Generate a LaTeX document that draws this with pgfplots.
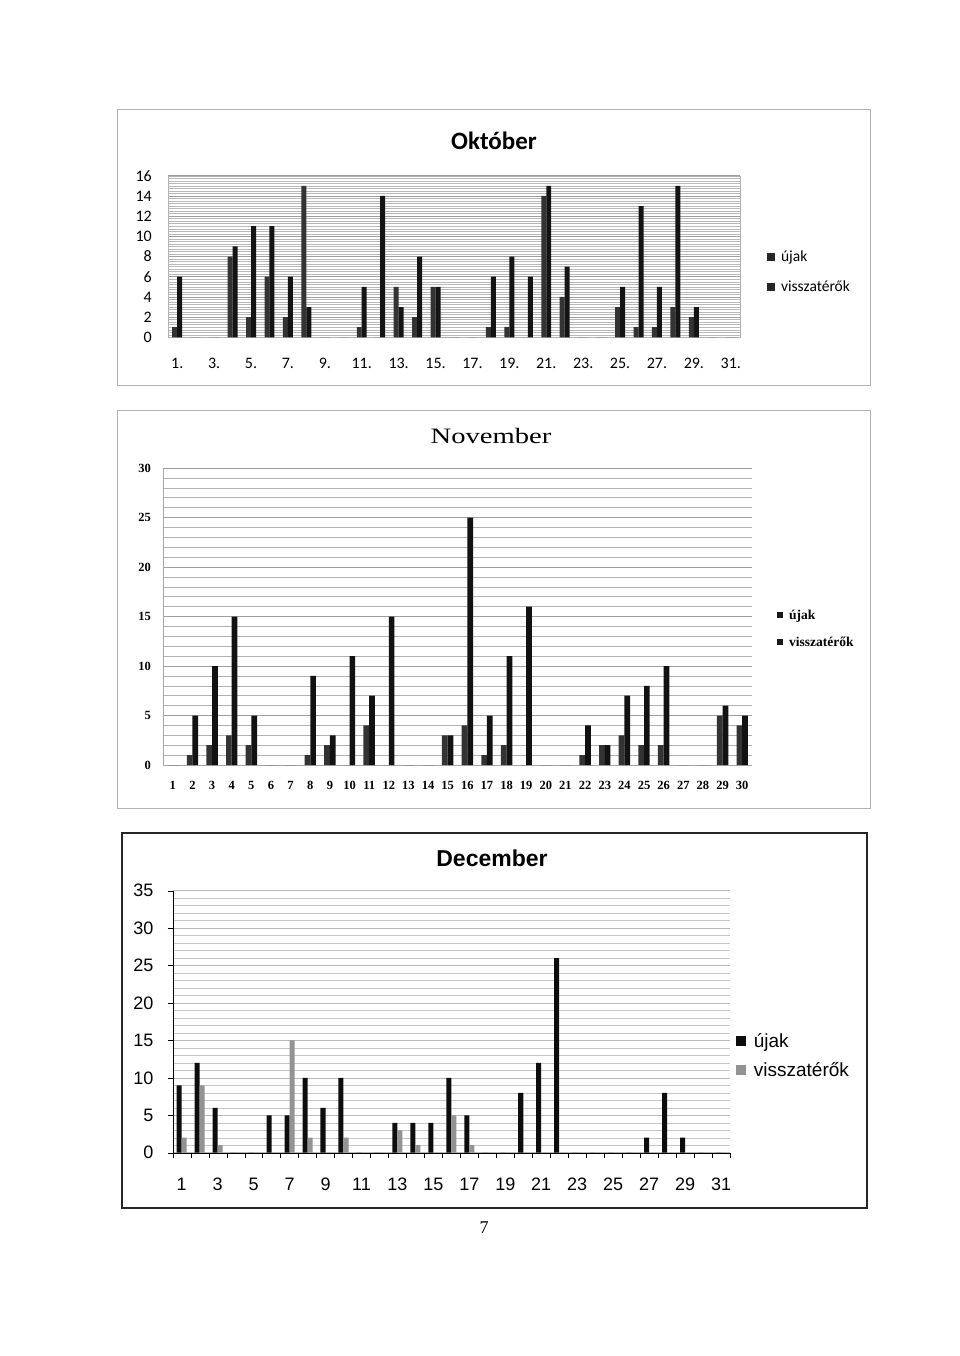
\documentclass[border=0pt]{standalone}
\usepackage{fontspec}
\setmainfont{Liberation Sans}
\newfontfamily\carlito{Carlito}
\newfontfamily\lserif{Liberation Serif}
\newfontfamily\lsans{Liberation Sans}
\usepackage{pgfplots}
\usepackage{pgfplotstable}
\pgfplotsset{compat=1.18}

\pgfplotstableread{
d u v
1 1 6
2 0 0
3 0 0
4 8 9
5 2 11
6 6 11
7 2 6
8 15 3
9 0 0
10 0 0
11 1 5
12 0 14
13 5 3
14 2 8
15 5 5
16 0 0
17 0 0
18 1 6
19 1 8
20 0 6
21 14 15
22 4 7
23 0 0
24 0 0
25 3 5
26 1 13
27 1 5
28 3 15
29 2 3
30 0 0
31 0 0
}\okt

\pgfplotstableread{
d u v
1 0 0
2 1 5
3 2 10
4 3 15
5 2 5
6 0 0
7 0 0
8 1 9
9 2 3
10 0 11
11 4 7
12 0 15
13 0 0
14 0 0
15 3 3
16 4 25
17 1 5
18 2 11
19 0 16
20 0 0
21 0 0
22 1 4
23 2 2
24 3 7
25 2 8
26 2 10
27 0 0
28 0 0
29 5 6
30 4 5
}\nov

\pgfplotstableread{
d u v
1 9 2
2 12 9
3 6 1
4 0 0
5 0 0
6 5 0
7 5 15
8 10 2
9 6 0
10 10 2
11 0 0
12 0 0
13 4 3
14 4 1
15 4 0
16 10 5
17 5 1
18 0 0
19 0 0
20 8 0
21 12 0
22 26 0
23 0 0
24 0 0
25 0 0
26 0 0
27 2 0
28 8 0
29 2 0
30 0 0
31 0 0
}\dec

\begin{document}
\begin{tikzpicture}[x=1pt,y=1pt]
\path[use as bounding box, fill=white] (0,0) rectangle (960,-1356);
% frames
\draw[gray!60, line width=1pt] (117,-110) rectangle (870,-385);
\draw[gray!60, line width=1pt] (117,-410) rectangle (870,-808);
\draw[black!85, line width=1.6pt] (122,-833) rectangle (867,-1208);
% titles
\node[font=\carlito\bfseries\fontsize{25}{25}\selectfont] at (494,-141) {Október};
\node[font=\lserif\fontsize{22}{22}\selectfont, xscale=1.3] at (491,-436) {November};
\node[font=\lsans\bfseries\fontsize{23}{23}\selectfont] at (492,-858) {December};
\node[font=\lserif\fontsize{18}{18}\selectfont] at (484,-1228) {7};

% ---------------- Oktober
\begin{axis}[at={(168pt,-337.3pt)}, anchor=south west, scale only axis,
  width=572pt, height=161.6pt,
  ybar, bar width=0.27,
  xmin=0.5, xmax=31.5, ymin=0, ymax=16,
  ytick={0,2,...,16},
  xtick={1,3,...,31},
  xticklabels={1.,3.,5.,7.,9.,11.,13.,15.,17.,19.,21.,23.,25.,27.,29.,31.},
  minor y tick num=7, ymajorgrids, yminorgrids,
  major grid style={gray!75, line width=0.5pt},
  minor grid style={gray!55, line width=0.45pt},
  axis line style={gray!60}, tick style={draw=none},
  ticklabel style={font=\carlito\fontsize{16}{16}\selectfont, inner sep=0pt},
  /pgf/number format/assume math mode=true,
  yticklabel shift=16pt, xticklabel shift=16pt,
  legend style={at={(1.047,0.55)}, anchor=north west, draw=none, fill=none,
    inner sep=0pt, font=\carlito\fontsize{15.5}{15.5}\selectfont, row sep=14pt,
    cells={anchor=west}},
]
\addplot[fill=black!80, draw=none, bar shift=-0.135,
  legend image code/.code={\fill[black!85] (0pt,-4pt) rectangle (8pt,4pt); \path (12pt,0pt);}]
  table[x=d,y=u]{\okt};
\addlegendentry{újak}
\addplot[fill=black!92, draw=none, bar shift=0.135,
  legend image code/.code={\fill[black!85] (0pt,-4pt) rectangle (8pt,4pt); \path (12pt,0pt);}]
  table[x=d,y=v]{\okt};
\addlegendentry{visszatérők}
\end{axis}

% ---------------- November
\begin{axis}[at={(163pt,-765pt)}, anchor=south west, scale only axis,
  width=589pt, height=297pt,
  ybar, bar width=0.29,
  xmin=0.5, xmax=30.5, ymin=0, ymax=30,
  ytick={0,5,...,30},
  xtick={1,...,30},
  minor y tick num=4, ymajorgrids, yminorgrids,
  major grid style={gray!75, line width=0.5pt},
  minor grid style={gray!60, line width=0.45pt},
  axis x line*=bottom, axis y line*=left,
  axis line style={gray!70,-}, tick style={draw=none},
  ticklabel style={font=\lserif\bfseries\fontsize{12.5}{12.5}\selectfont, inner sep=0pt},
  /pgf/number format/assume math mode=true,
  yticklabel shift=12pt, xticklabel shift=12pt,
  legend style={at={(1.0425,0.53)}, anchor=north west, draw=none, fill=none,
    inner sep=0pt, font=\lserif\bfseries\fontsize{13.5}{13.5}\selectfont, row sep=12pt,
    cells={anchor=west}},
]
\addplot[fill=black!80, draw=none, bar shift=-0.145,
  legend image code/.code={\fill[black!90] (0pt,-3pt) rectangle (6pt,3pt); \path (10pt,0pt);}]
  table[x=d,y=u]{\nov};
\addlegendentry{újak}
\addplot[fill=black!93, draw=none, bar shift=0.145,
  legend image code/.code={\fill[black!90] (0pt,-3pt) rectangle (6pt,3pt); \path (10pt,0pt);}]
  table[x=d,y=v]{\nov};
\addlegendentry{visszatérők}
\end{axis}

% ---------------- December
\begin{axis}[at={(172.7pt,-1152.7pt)}, anchor=south west, scale only axis,
  width=557.3pt, height=262pt,
  ybar, bar width=0.28,
  xmin=0.5, xmax=31.5, ymin=0, ymax=35,
  ytick={0,5,...,35},
  xtick={1,3,...,31},
  minor xtick={0.5,1.5,...,31.5},
  minor ytick={1,...,34},
  ymajorgrids, yminorgrids,
  major grid style={gray!55, line width=0.45pt},
  minor grid style={gray!45, line width=0.4pt},
  axis x line=bottom, axis y line=left,
  axis line style={black,-},
  tick align=outside, major tick length=5pt, minor tick length=5pt,
  major x tick style={draw=none}, minor y tick style={draw=none},
  minor x tick style={black}, major y tick style={black},
  ticklabel style={font=\lsans\fontsize{18}{18}\selectfont, inner sep=0pt},
  /pgf/number format/assume math mode=true,
  yticklabel shift=14pt, xticklabel shift=20pt,
  legend style={at={(1.0102,0.465)}, anchor=north west, draw=none, fill=none,
    inner sep=0pt, font=\lsans\fontsize{19}{19}\selectfont, row sep=10pt,
    cells={anchor=west}},
]
\addplot[fill=black!95, draw=none, bar shift=-0.14,
  legend image code/.code={\fill[black!95] (0pt,-5pt) rectangle (10pt,5pt); \path (16pt,0pt);}]
  table[x=d,y=u]{\dec};
\addlegendentry{újak}
\addplot[fill=gray!85, draw=none, bar shift=0.14,
  legend image code/.code={\fill[gray!85] (0pt,-5pt) rectangle (10pt,5pt); \path (16pt,0pt);}]
  table[x=d,y=v]{\dec};
\addlegendentry{visszatérők}
\end{axis}
\end{tikzpicture}
\end{document}
